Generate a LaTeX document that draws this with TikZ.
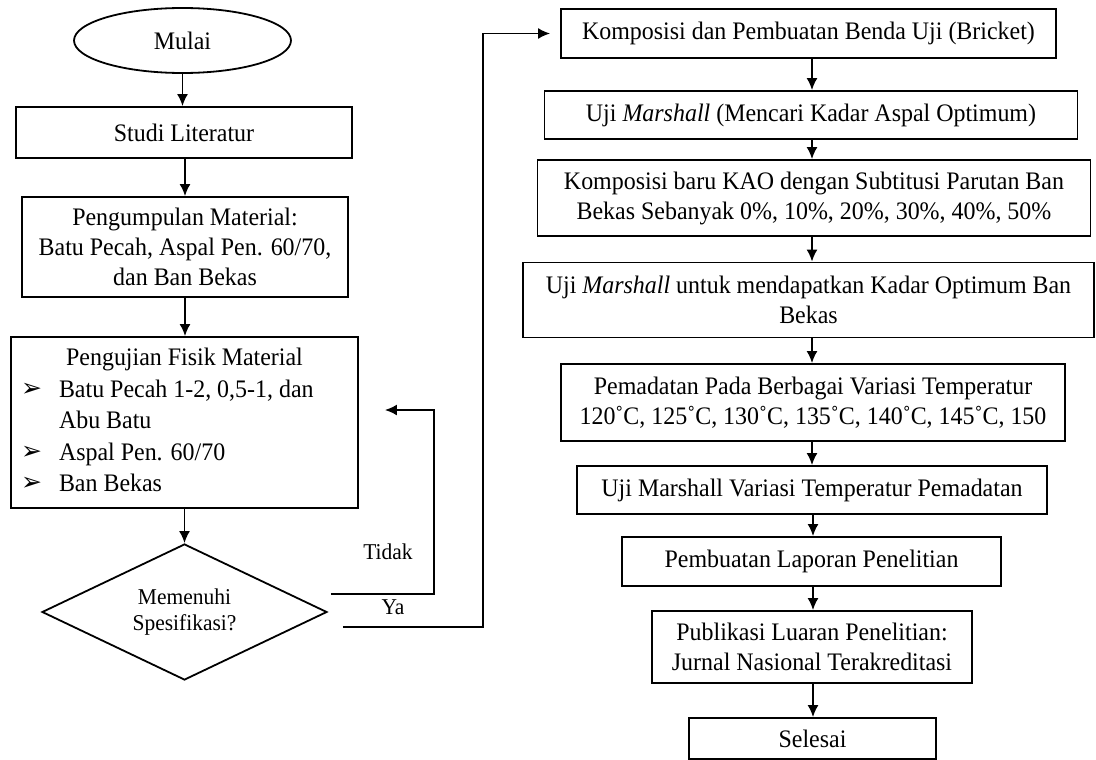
\documentclass[tikz,border=0pt]{standalone}
\usepackage{fontspec}
\setmainfont[FakeStretch=0.95]{Liberation Serif}
\newfontfamily\dejavu{DejaVu Sans}
\usetikzlibrary{shapes.geometric,arrows.meta,calc}
\newcommand\mainfs{\fontsize{25.2}{30}\selectfont}
\newcommand\smallfs{\fontsize{22.6}{26}\selectfont}
\newcommand\bul{\raisebox{1pt}{\dejavu\fontsize{25}{25}\selectfont ➢}}
\begin{document}
\begin{tikzpicture}[x=1pt,y=-1pt,
  box/.style={draw, line width=1.8pt, inner sep=0pt, align=center, font=\mainfs},
  arr/.style={-{Latex[length=12pt,width=11pt]}, line width=1.8pt},
  lbl/.style={inner sep=0pt, font=\smallfs}]
\useasboundingbox (0,0) rectangle (1096,760);
% left column
\node[box, ellipse, minimum width=217pt, minimum height=65pt] (mulai) at (182.5,40.5) {Mulai};
\node[box, minimum width=336pt, minimum height=51pt] (studi) at (184,132.5) {Studi Literatur};
\node[box, minimum width=326pt, minimum height=100pt] (kumpul) at (185,247) {Pengumpulan Material:\\Batu Pecah, Aspal Pen. 60/70,\\dan Ban Bekas};
\node[draw, line width=1.8pt, inner xsep=10pt, inner ysep=0pt, minimum height=171pt, font=\fontsize{25.2}{31.5}\selectfont] (uji) at (184.5,422.5)
  {\raisebox{-3pt}{\begin{tabular}{@{}p{38pt}@{}p{289pt}@{}}
   \multicolumn{2}{@{}c@{}}{Pengujian Fisik Material}\\
   \bul & Batu Pecah 1-2, 0,5-1, dan\\
        & Abu Batu\\
   \bul & Aspal Pen. 60/70\\
   \bul & Ban Bekas
   \end{tabular}}};
\node[box, diamond, aspect=2.1, minimum width=285pt, minimum height=136pt, font=\smallfs] (dia) at (184.5,612) {Memenuhi\\Spesifikasi?};
\draw[arr] (mulai.south) -- (mulai.south |- studi.north);
\draw[arr] (studi.south -| kumpul.north) -- (kumpul.north);
\draw[arr] (kumpul.south) -- (kumpul.south |- uji.north);
\draw[arr] (uji.south) -- (uji.south |- dia.north);
% Tidak / Ya connectors
\coordinate (tA) at ($(dia.east)+(3,-18)$);
\coordinate (tB) at ($(uji.east)+(26,-12.5)$);
\coordinate (yA) at ($(dia.east)+(15,15)$);
\node[lbl] (tidak) at (388,552) {Tidak};
\node[lbl] (ya) at (393,607) {Ya};
% right column
\node[box, minimum width=495pt, minimum height=49pt] (k1) at (808.5,33.5) {Komposisi dan Pembuatan Benda Uji (Bricket)};
\node[box, minimum width=533pt, minimum height=48pt] (k2) at (811,115) {Uji \textit{Marshall} (Mencari Kadar Aspal Optimum)};
\node[box, minimum width=553pt, minimum height=76pt] (k3) at (814,198) {Komposisi baru KAO dengan Subtitusi Parutan Ban\\Bekas Sebanyak 0\%, 10\%, 20\%, 30\%, 40\%, 50\%};
\node[box, minimum width=571pt, minimum height=75pt] (k4) at (808.5,300) {Uji \textit{Marshall} untuk mendapatkan Kadar Optimum Ban\\Bekas};
\node[box, minimum width=504pt, minimum height=77pt] (k5) at (813,402.5) {Pemadatan Pada Berbagai Variasi Temperatur\\120˚C, 125˚C, 130˚C, 135˚C, 140˚C, 145˚C, 150};
\node[box, minimum width=470pt, minimum height=48pt] (k6) at (812,490) {Uji Marshall Variasi Temperatur Pemadatan};
\node[box, minimum width=379pt, minimum height=49pt] (k7) at (811.5,561.5) {Pembuatan Laporan Penelitian};
\node[box, minimum width=320pt, minimum height=72pt] (k8) at (812,647) {Publikasi Luaran Penelitian:\\Jurnal Nasional Terakreditasi};
\node[box, minimum width=247pt, minimum height=41pt] (k9) at (812.5,738.5) {Selesai};
\coordinate (yB) at ($(k1.west)+(-10,0)$);
\draw[arr] (tA) -- ++(103,0) |- (tB);
\draw[arr] (yA) -- ++(140,0) |- (yB);
\draw[arr] (k1.south -| 812,0) -- (k2.north -| 812,0);
\draw[arr] (k2.south -| 812,0) -- (k3.north -| 812,0);
\draw[arr] (k3.south -| 812,0) -- (k4.north -| 812,0);
\draw[arr] (k4.south -| 812,0) -- (k5.north -| 812,0);
\draw[arr] (k5.south -| 812,0) -- (k6.north -| 812,0);
\draw[arr] (k6.south -| 813,0) -- (k7.north -| 813,0);
\draw[arr] (k7.south -| 813,0) -- (k8.north -| 813,0);
\draw[arr] (k8.south -| 813,0) -- (k9.north -| 813,0);
\end{tikzpicture}
\end{document}
